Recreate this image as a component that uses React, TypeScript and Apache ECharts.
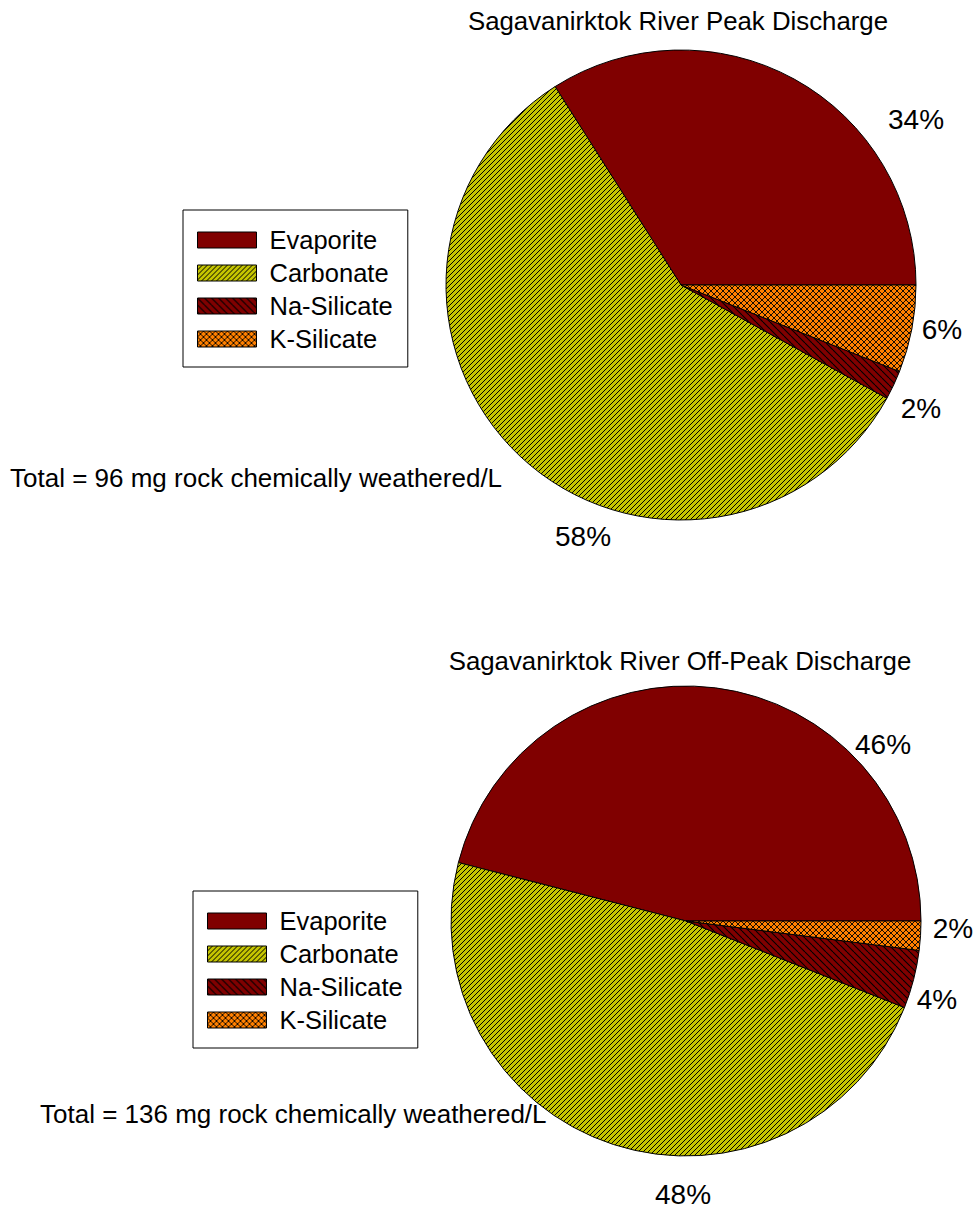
import React, { useEffect, useRef } from "react";
import * as echarts from "echarts";

const categories = ["Evaporite", "Carbonate", "Na-Silicate", "K-Silicate"];
const peakValues = [34, 58, 2, 6];
const offPeakValues = [46, 48, 4, 2];
const titles = ["Sagavanirktok River Peak Discharge", "Sagavanirktok River Off-Peak Discharge"];
const totals = ["Total = 96 mg rock chemically weathered/L", "Total = 136 mg rock chemically weathered/L"];

// label anchor positions (layout only)
const peakLabelPos = [[916, 119], [583, 536], [921, 408], [942, 329]];
const offPeakLabelPos = [[883, 744], [683, 1194], [937, 999], [953, 928]];

const FONT = "'Liberation Sans', Arial, sans-serif";

function makeTile(bg: string, size: number, dirs: string[], lw: number) {
  const c = document.createElement("canvas");
  c.width = size;
  c.height = size;
  const g = c.getContext("2d")!;
  g.fillStyle = bg;
  g.fillRect(0, 0, size, size);
  g.strokeStyle = "#000";
  g.lineWidth = lw;
  for (const d of dirs) {
    for (let k = -1; k <= 1; k++) {
      g.beginPath();
      if (d === "/") {
        g.moveTo(k * size, size);
        g.lineTo(k * size + size, 0);
      } else {
        g.moveTo(k * size, 0);
        g.lineTo(k * size + size, size);
      }
      g.stroke();
    }
  }
  return { image: c, repeat: "repeat", imageWidth: size, imageHeight: size } as any;
}

export default function App() {
  const ref = useRef<HTMLDivElement>(null);
  useEffect(() => {
    document.body.style.margin = "0";
    const chart = echarts.init(ref.current!, null, { renderer: "svg" });
    const colors = [
      "#800000",
      makeTile("#c4c400", 5, ["/"], 1),
      makeTile("#800000", 7, ["\\"], 1.1),
      makeTile("#ff8000", 6, ["/", "\\"], 0.9),
    ];
    const mkData = (vals: number[]) =>
      categories.map((name, i) => ({ name, value: vals[i], itemStyle: { color: colors[i] } }));
    const mkSeries = (vals: number[], center: number[], pos: number[][]) => ({
      type: "pie",
      center,
      radius: 235,
      startAngle: 0,
      clockwise: false,
      silent: true,
      emphasis: { disabled: true },
      itemStyle: { borderColor: "#000", borderWidth: 1 },
      label: {
        show: true,
        position: "outside",
        formatter: (p: any) => p.value + "%",
        fontSize: 28,
        color: "#000",
        fontFamily: FONT,
        overflow: "none",
        edgeDistance: 0,
      },
      labelLine: { show: false },
      labelLayout: (p: any) => ({
        x: pos[p.dataIndex][0],
        y: pos[p.dataIndex][1],
        align: "center",
        verticalAlign: "middle",
      }),
      data: mkData(vals),
    });
    const legendBase = {
      orient: "vertical",
      itemWidth: 59,
      itemHeight: 16,
      itemGap: 7,
      padding: [17, 15, 15, 14],
      borderColor: "#000",
      borderWidth: 1,
      backgroundColor: "#fff",
      selectedMode: false,
      icon: "rect",
      itemStyle: { borderColor: "#000", borderWidth: 1 },
      textStyle: { fontSize: 25.5, color: "#000", fontFamily: FONT, lineHeight: 25, padding: [0, 0, 0, 8] },
      data: categories,
    };
    const txt = (text: string, x: number, y: number, size: number, align: string) => ({
      type: "text",
      x,
      y,
      style: { text, fontSize: size, fontFamily: FONT, fill: "#000", textAlign: align, textVerticalAlign: "middle" },
    });
    chart.setOption({
      animation: false,
      legend: [
        { ...legendBase, left: 183, top: 210 },
        { ...legendBase, left: 193, top: 891 },
      ],
      series: [
        mkSeries(peakValues, [681, 285], peakLabelPos),
        mkSeries(offPeakValues, [686, 921], offPeakLabelPos),
      ],
      graphic: [
        txt(titles[0], 678, 21, 25.8, "center"),
        txt(titles[1], 680, 661, 25.8, "center"),
        txt(totals[0], 10, 478, 26, "left"),
        txt(totals[1], 40, 1114, 26, "left"),
      ],
    });
    return () => chart.dispose();
  }, []);
  return <div ref={ref} style={{ width: 978, height: 1210 }} />;
}
